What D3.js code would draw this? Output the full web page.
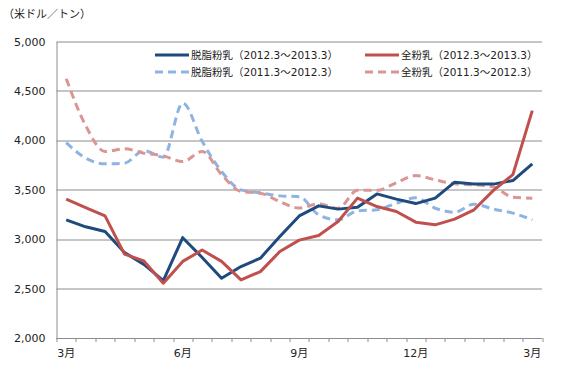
<!DOCTYPE html>
<html>
<head>
<meta charset="utf-8">
<script src="https://cdn.jsdelivr.net/npm/d3@7"></script>
<style>
  body { margin: 0; background: #fff; }
  svg text { font-family: "DejaVu Sans", Verdana, "Noto Sans CJK JP", sans-serif; fill: #222; }
</style>
</head>
<body>
<svg id="chart" width="577" height="373"></svg>
<script>
// half-month points, Mar -> Mar
var months = ['3月', '', '', '', '', '', '6月', '', '', '', '', '', '9月', '', '', '', '', '', '12月', '', '', '', '', '', '3月'];

var skim1213 = [3195, 3125, 3077, 2865, 2745, 2581, 3015, 2815, 2605, 2723, 2808, 3026, 3235,
                3337, 3304, 3324, 3458, 3405, 3360, 3415, 3577, 3557, 3557, 3593, 3762];
var whole1213 = [3405, 3320, 3235, 2848, 2780, 2555, 2775, 2890, 2775, 2588, 2672, 2875, 2990,
                 3037, 3179, 3415, 3330, 3280, 3172, 3145, 3203, 3297, 3494, 3653, 4300];
var skim1112 = [3977, 3820, 3762, 3769, 3896, 3829, 4377, 3990, 3684, 3499, 3470, 3438, 3430,
                3246, 3196, 3287, 3297, 3364, 3418, 3313, 3273, 3354, 3304, 3264, 3196];
var whole1112 = [4624, 4150, 3887, 3914, 3870, 3843, 3785, 3887, 3653, 3482, 3465, 3380, 3315,
                 3357, 3313, 3494, 3494, 3570, 3643, 3600, 3560, 3550, 3527, 3425, 3415];

var yTicks = [2000, 2500, 3000, 3500, 4000, 4500, 5000];

var series = [
  { name: '脱脂粉乳（2012.3～2013.3）', values: skim1213, color: '#1f4a7e', dash: null, smooth: false },
  { name: '全粉乳（2012.3～2013.3）', values: whole1213, color: '#c0504d', dash: null, smooth: false },
  { name: '脱脂粉乳（2011.3～2012.3）', values: skim1112, color: '#8db4e2', dash: '8,5', smooth: true },
  { name: '全粉乳（2011.3～2012.3）', values: whole1112, color: '#da9694', dash: '8,5', smooth: true }
];

var svg = d3.select('#chart');
var margin = { left: 56.5, right: 35, top: 41.5, bottom: 35 };
var width = 577 - margin.left - margin.right,
    height = 373 - margin.top - margin.bottom;

var g = svg.append('g').attr('transform', 'translate(' + margin.left + ',' + margin.top + ')');

var x = d3.scaleBand()
  .domain(d3.range(months.length))
  .range([0, width]);

var y = d3.scaleLinear()
  .domain([2000, 5000])
  .range([height, 0]);

// gridlines
g.selectAll('.grid')
  .data(yTicks.slice(1))
  .enter().append('line')
  .attr('x1', 0).attr('x2', width)
  .attr('y1', function (d) { return Math.round(y(d)) + 0.5; })
  .attr('y2', function (d) { return Math.round(y(d)) + 0.5; })
  .attr('stroke', '#8c8c8c')
  .attr('stroke-width', 1);

// y axis
var yAxis = g.append('g')
  .call(d3.axisLeft(y).tickValues(yTicks).tickFormat(d3.format(',')).tickSize(0).tickPadding(11));
yAxis.select('.domain').attr('stroke', '#8c8c8c');
yAxis.selectAll('text').attr('font-size', 11).style('fill', '#222');

// x axis: ticks on category boundaries
var xAxisG = g.append('g').attr('transform', 'translate(0,' + height + ')');
xAxisG.append('line')
  .attr('x1', 0).attr('x2', width)
  .attr('y1', 0.5).attr('y2', 0.5)
  .attr('stroke', '#8c8c8c');
xAxisG.selectAll('.tick')
  .data(d3.range(months.length + 1))
  .enter().append('line')
  .attr('x1', function (i) { return Math.round(i * x.step()) + 0.5; })
  .attr('x2', function (i) { return Math.round(i * x.step()) + 0.5; })
  .attr('y1', 0).attr('y2', 4)
  .attr('stroke', '#8c8c8c');
xAxisG.selectAll('.lbl')
  .data(months.map(function (m, i) { return { m: m, i: i }; }).filter(function (d) { return d.m; }))
  .enter().append('text')
  .attr('x', function (d) { return x(d.i) + x.bandwidth() / 2; })
  .attr('y', 19)
  .attr('text-anchor', 'middle')
  .attr('font-size', 11)
  .text(function (d) { return d.m; });

// unit label
svg.append('text')
  .attr('x', 3).attr('y', 18)
  .attr('font-size', 11)
  .style('font-family', '"Noto Sans CJK JP", sans-serif')
  .text('（米ドル／トン）');

// lines, dashed first so solid sit on top
var drawOrder = [series[2], series[3], series[0], series[1]];
drawOrder.forEach(function (s) {
  var line = d3.line()
    .x(function (d, i) { return x(i) + x.bandwidth() / 2; })
    .y(function (d) { return y(d); })
    .curve(s.smooth ? d3.curveMonotoneX : d3.curveLinear);
  g.append('path')
    .datum(s.values)
    .attr('d', line)
    .attr('fill', 'none')
    .attr('stroke', s.color)
    .attr('stroke-width', 3)
    .attr('stroke-dasharray', s.dash)
    .attr('stroke-linejoin', 'round');
});

// legend
var legendPos = [[155, 55], [365, 55], [155, 72], [365, 72]];
series.forEach(function (s, i) {
  var lg = svg.append('g').attr('transform', 'translate(' + legendPos[i][0] + ',' + legendPos[i][1] + ')');
  lg.append('line')
    .attr('x1', 0).attr('x2', 34)
    .attr('y1', 0).attr('y2', 0)
    .attr('stroke', s.color)
    .attr('stroke-width', 3)
    .attr('stroke-dasharray', s.dash);
  lg.append('text')
    .attr('x', 36).attr('y', 4)
    .attr('font-size', 10.5)
    .text(s.name);
});
</script>
</body>
</html>
